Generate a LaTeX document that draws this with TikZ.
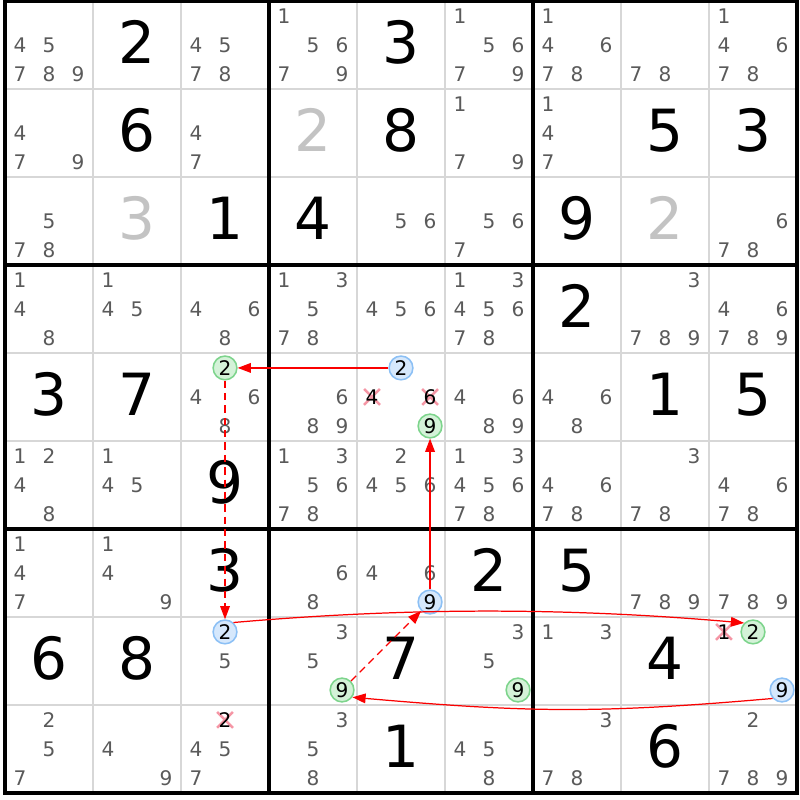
\documentclass[tikz,border=0pt]{standalone}
\usepackage{fontspec}
\setmainfont{DejaVu Sans}
\usetikzlibrary{calc,arrows.meta}
\definecolor{candgrey}{RGB}{90,90,90}
\definecolor{fadegrey}{RGB}{195,195,195}
\definecolor{cellgrey}{RGB}{215,215,215}
\definecolor{ringblue}{RGB}{140,192,245}
\definecolor{fillblue}{RGB}{214,232,252}
\definecolor{ringgreen}{RGB}{125,212,140}
\definecolor{fillgreen}{RGB}{212,242,216}
\definecolor{crosspink}{RGB}{245,150,165}
\definecolor{linkred}{RGB}{250,0,0}
\tikzset{
	cand/.style={inner sep=0pt, text=candgrey, font=\fontsize{6.5}{7}\selectfont},
	big/.style={inner sep=0pt, font=\fontsize{18.8}{20}\selectfont},
	faded/.style={big, text=fadegrey},
	bluering/.style={circle, draw=ringblue, fill=fillblue, line width=0.5pt, minimum size=0.27cm, inner sep=0pt, text=black, font=\fontsize{6.5}{7}\selectfont},
	greenring/.style={bluering, draw=ringgreen, fill=fillgreen},
	elimx/.style={crosspink, line width=0.8pt},
	link/.style={linkred, line width=0.4pt, -{Triangle[length=1.5mm,width=1.1mm]}},
	weak/.style={link, dash pattern=on 2.4pt off 1.6pt}
}
\def\cands(#1,#2)#3{\foreach \dg in {#3} \node[cand] (r#1c#2d\dg) at ({#2-0.83+0.33*mod(\dg-1,3)},{9.83-#1-0.33*int((\dg-1)/3)}) {\dg};}
\def\ring[#1](#2,#3,#4){\node[#1] (r#2c#3d#4) at ({#3-0.83+0.33*mod(#4-1,3)},{9.83-#2-0.33*int((#4-1)/3)}) {#4};}
\def\elim(#1,#2,#3){\coordinate (e#1#2d#3) at ({#2-0.83+0.33*mod(#3-1,3)},{9.83-#1-0.33*int((#3-1)/3)});
	\draw[elimx] (e#1#2d#3) +(-0.09,-0.09) -- +(0.09,0.09) +(-0.09,0.09) -- +(0.09,-0.09);
	\node[cand, text=black] (r#1c#2d#3) at (e#1#2d#3) {#3};}
\def\given[#1](#2,#3)#4{\node[#1] (g#2#3) at (#3-0.5,9.53-#2) {#4};}

\begin{document}
\begin{tikzpicture}
		%%%%% START %%%%%
		\useasboundingbox (-0.057,-0.080) rectangle (9.034,9.011);
		\draw[cellgrey, line width=0.6pt, step=1] (0,0) grid (9,9);
		\draw[black, line width=1.1pt, step=3] (0,0) grid (9,9);
		\draw[black, line width=1.1pt] (0,0) rectangle (9,9);
		
		% givens
		\given[big](1,2){2} \given[big](1,5){3}
		\given[big](2,2){6} \given[faded](2,4){2} \given[big](2,5){8} \given[big](2,8){5} \given[big](2,9){3}
		\given[faded](3,2){3} \given[big](3,3){1} \given[big](3,4){4} \given[big](3,7){9} \given[faded](3,8){2}
		\given[big](4,7){2}
		\given[big](5,1){3} \given[big](5,2){7} \given[big](5,8){1} \given[big](5,9){5}
		\given[big](6,3){9}
		\given[big](7,3){3} \given[big](7,6){2} \given[big](7,7){5}
		\given[big](8,1){6} \given[big](8,2){8} \given[big](8,5){7} \given[big](8,8){4}
		\given[big](9,5){1} \given[big](9,8){6}
		
		% candidates
		\cands(1,1){4,5,7,8,9} \cands(1,3){4,5,7,8} \cands(1,4){1,5,6,7,9} \cands(1,6){1,5,6,7,9}
		\cands(1,7){1,4,6,7,8} \cands(1,8){7,8} \cands(1,9){1,4,6,7,8}
		\cands(2,1){4,7,9} \cands(2,3){4,7} \cands(2,6){1,7,9} \cands(2,7){1,4,7}
		\cands(3,1){5,7,8} \cands(3,5){5,6} \cands(3,6){5,6,7} \cands(3,9){6,7,8}
		\cands(4,1){1,4,8} \cands(4,2){1,4,5} \cands(4,3){4,6,8} \cands(4,4){1,3,5,7,8}
		\cands(4,5){4,5,6} \cands(4,6){1,3,4,5,6,7,8} \cands(4,8){3,7,8,9} \cands(4,9){4,6,7,8,9}
		\cands(5,3){4,6,8} \cands(5,4){6,8,9} \cands(5,6){4,6,8,9} \cands(5,7){4,6,8}
		\cands(6,1){1,2,4,8} \cands(6,2){1,4,5} \cands(6,4){1,3,5,6,7,8} \cands(6,5){2,4,5,6}
		\cands(6,6){1,3,4,5,6,7,8} \cands(6,7){4,6,7,8} \cands(6,8){3,7,8} \cands(6,9){4,6,7,8}
		\cands(7,1){1,4,7} \cands(7,2){1,4,9} \cands(7,4){6,8} \cands(7,5){4,6} \cands(7,8){7,8,9} \cands(7,9){7,8,9}
		\cands(8,3){5} \cands(8,4){3,5} \cands(8,6){3,5} \cands(8,7){1,3}
		\cands(9,1){2,5,7} \cands(9,2){4,9} \cands(9,3){4,5,7} \cands(9,4){3,5,8} \cands(9,6){4,5,8}
		\cands(9,7){3,7,8} \cands(9,9){2,7,8,9}
		
		% eliminations
		\elim(5,5,4) \elim(5,5,6) \elim(8,9,1) \elim(9,3,2)
		
		% chain
		\ring[greenring](5,3,2) \ring[bluering](5,5,2) \ring[greenring](5,5,9)
		\ring[bluering](7,5,9)
		\ring[bluering](8,3,2) \ring[greenring](8,4,9) \ring[greenring](8,6,9)
		\ring[greenring](8,9,2) \ring[bluering](8,9,9)
		
		\draw[link] (r5c5d2) -- (r5c3d2);
		\draw[weak] (r5c3d2) -- (r8c3d2);
		\draw[link] (r8c3d2.48) .. controls +(5:2) and +(175:2) .. (r8c9d2.135);
		\draw[link] (r8c9d9.222) .. controls +(185:2) and +(-5:2) .. (r8c4d9.-35);
		\draw[weak] (r8c4d9) -- (r7c5d9);
		\draw[link] (r7c5d9) -- (r5c5d9);
		%%%%% END %%%%%
	\end{tikzpicture}
\end{document}
